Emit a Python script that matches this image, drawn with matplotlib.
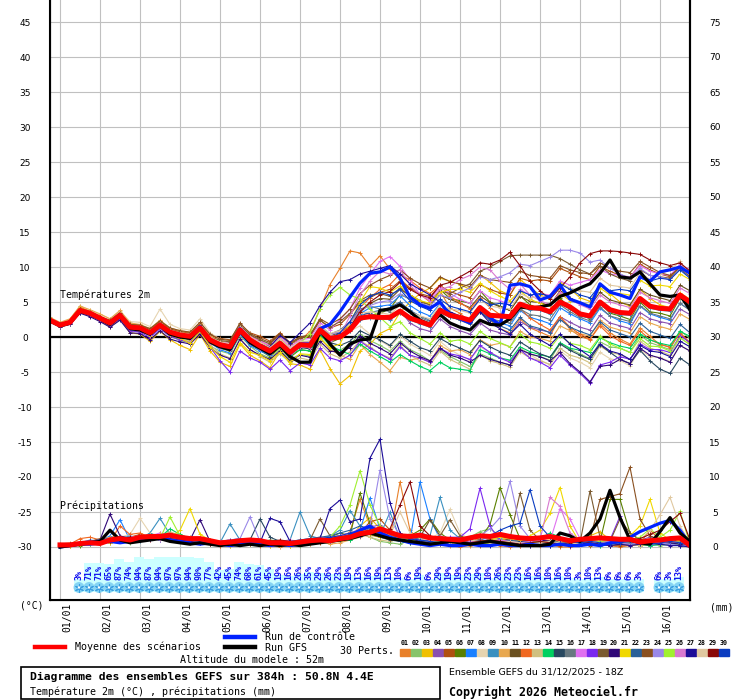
import numpy as np
import matplotlib.pyplot as plt
from matplotlib.patches import Rectangle
from matplotlib.lines import Line2D
import matplotlib.transforms as mtransforms

plt.rcParams['font.family'] = ['DejaVu Sans Mono']

# forecast steps (hours after 31/12 18Z)
hours = list(range(0, 385, 6))
rain_hours = hours[1:]

day_labels = ['01/01', '02/01', '03/01', '04/01', '05/01', '06/01', '07/01', '08/01',
              '09/01', '10/01', '11/01', '12/01', '13/01', '14/01', '15/01', '16/01']

member_colors = ['#e8802a', '#86c46a', '#f0c000', '#8a50b0', '#b05010', '#5a8000',
                 '#1a80ff', '#e6d4b0', '#3a90c0', '#e8a850', '#6a5020', '#f06820',
                 '#d0c080', '#00d060', '#284860', '#687880', '#e070f0', '#7a28f0',
                 '#7a5a30', '#300878', '#f0d800', '#2a6098', '#8a5020', '#9a88e8',
                 '#a0f030', '#d878d0', '#1c0c98', '#e0c8a0', '#8a0808', '#0a3cc0']

# 2m temperature (degC)
temp_mean = [2.4, 1.7,2.1,3.8,3.4, 2.7,2.0,3.1,1.4, 1.3,0.6,1.7,0.7, 0.3,0.1,1.3,-0.4, -1.1,-1.4,1.0,-0.4, -1.3,-2.0,-0.9,-2.2, -1.1,-1.2,1.0,-0.2, 0.0,1.0,2.7,2.9, 2.8,2.8,3.7,2.7, 2.2,1.7,3.8,3.1, 2.8,2.4,4.2,3.1, 3.0,2.9,4.7,4.2, 4.1,3.6,5.0,4.3, 3.3,3.0,5.0,3.9, 3.5,3.4,5.5,4.4, 4.1,4.0,6.0,5.0]
temp_ctrl = [2.4, 1.8,2.0,3.9,3.3, 2.6,2.0,3.2,1.2, 1.1,0.4,1.8,0.5, 0.2,0.0,1.5,-0.5, -1.0,-1.4,1.2,-0.6, -1.4,-2.2,-1.0,-2.4, -1.0,-1.0,1.2,1.8, 3.6,5.7,7.7,9.1, 9.3,10.0,8.4,5.7, 4.6,4.1,5.0,3.1, 2.6,2.0,4.3,2.8, 1.7,7.4,7.6,7.2, 5.3,5.8,7.4,5.4, 4.9,4.3,7.6,6.4, 6.0,5.5,8.6,8.0, 9.3,9.6,10.0,9.1]
temp_gfs = [2.3, 1.6,2.0,3.7,3.3, 2.6,1.8,3.0,1.2, 1.0,0.4,1.6,0.4, 0.0,-0.2,1.2,-0.7, -1.4,-1.8,0.8,-0.8, -1.6,-2.4,-1.2,-2.8, -3.6,-3.6,1.0,-1.0, -2.6,-1.0,-0.4,-0.3, 3.8,4.0,4.6,3.6, 2.4,1.8,3.2,2.0, 1.4,1.0,2.4,1.8, 1.7,2.6,4.3,4.1, 4.3,4.6,5.8,6.3, 7.0,7.6,9.1,11.0, 8.6,8.4,9.3,7.6, 6.0,5.8,6.0,3.9]

temp_p01 = [2.6, 1.9,2.5,4.3,3.7, 2.9,2.2,3.4,1.9, 1.7,1.0,2.3,1.1, 0.8,0.5,2.0,0.3, -0.6,-0.9,1.6,0.3, -0.6,-1.3,0.2,-1.0, -0.5,0.8,4.0,7.5, 9.8,12.3,12.0,10.1, 11.6,9.7,8.3,7.0, 6.1,5.0,6.6,4.1, 3.4,2.1,3.9,2.4, 1.2,0.6,2.6,1.3, 0.7,0.1,2.9,1.1, 0.1,-0.4,1.9,0.6, -0.3,-1.0,1.3,0.1, -1.1,-1.4,0.5,-0.9]
temp_p02 = [2.2, 1.5,1.9,3.5,3.0, 2.4,1.6,2.7,0.9, 0.8,0.2,1.2,0.1, -0.5,-0.8,0.6,-1.3, -2.0,-2.4,0.2,-1.3, -2.4,-3.0,-1.8,-3.2, -2.5,-2.7,-0.2,-1.6, -1.9,-1.0,0.4,-0.5, -1.2,-2.0,-0.6,-1.8, -2.5,-3.4,-1.9,-2.8, -3.5,-4.2,-2.4,-3.0, -3.6,-4.0,-1.6,-2.5, -2.8,-3.3,-0.9,-1.7, -2.4,-3.1,-0.7,-1.4, -1.6,-2.2,0.3,-0.8, -1.3,-1.8,0.9,-0.2]
temp_p03 = [2.5, 1.8,2.0,3.6,3.2, 2.5,1.4,2.6,0.6, 0.4,-0.6,0.8,-0.4, -1.2,-1.8,0.4,-2.0, -3.6,-4.2,-1.0,-2.6, -3.4,-4.4,-2.0,-3.8, -4.0,-4.6,-1.8,-4.5, -6.7,-5.5,-2.0,-1.0, 0.5,1.2,3.5,5.0, 6.2,7.0,8.4,8.0, 7.5,6.8,8.9,7.8, 6.6,6.0,8.2,7.1, 6.0,5.4,7.8,6.9, 5.6,5.1,7.4,6.2, 5.0,4.4,6.8,5.5, 4.6,4.2,6.3,5.4]
temp_p04 = [2.3, 1.6,2.2,3.9,3.3, 2.6,2.1,3.3,1.6, 1.5,0.9,2.0,0.9, 0.5,0.4,1.7,-0.1, -0.8,-1.1,1.4,0.0, -0.9,-1.6,-0.4,-1.8, -0.8,-0.6,1.6,0.4, 0.8,2.0,3.6,3.3, 3.0,2.6,3.8,2.0, 1.2,0.8,2.6,1.5, 0.9,0.4,2.0,1.0, 0.6,0.3,2.2,1.4, 1.0,0.7,2.9,2.1, 1.4,1.0,3.1,2.0, 1.6,1.2,3.5,2.6, 2.2,1.9,4.0,3.2]
temp_p05 = [2.4, 1.7,2.0,3.7,3.4, 2.8,2.3,3.4,1.7, 1.6,1.1,2.1,1.2, 0.8,0.6,1.9,0.3, -0.2,-0.4,1.8,0.6, 0.1,-0.6,0.6,-0.9, -0.1,0.0,2.4,1.3, 1.8,3.2,5.0,5.6, 6.4,6.8,8.0,7.0, 6.2,5.8,7.3,6.5, 6.0,5.6,7.5,6.8, 6.3,6.0,8.4,8.0, 8.2,8.0,9.8,9.2, 8.6,8.2,10.1,9.4, 8.8,8.5,10.4,9.6, 9.0,8.6,10.2,9.0]
temp_p06 = [2.6, 2.0,2.4,4.1,3.6, 2.8,2.2,3.0,1.3, 1.1,0.4,1.6,0.4, 0.0,-0.4,0.9,-0.9, -1.6,-2.0,0.6,-1.0, -1.9,-2.8,-1.5,-2.9, -1.8,-2.0,0.5,-0.8, -0.2,0.8,2.6,3.0, 3.4,4.0,6.1,5.4, 4.8,4.3,6.8,5.5, 5.2,4.8,6.6,5.0, 4.4,3.8,5.9,4.6, 4.0,3.4,5.6,4.0, 3.2,2.6,4.8,3.4, 3.0,2.5,5.0,3.6, 3.4,3.0,5.6,4.4]
temp_p07 = [2.3, 1.6,2.0,3.5,3.2, 2.4,1.7,2.9,1.2, 1.0,0.2,1.5,0.4, 0.1,-0.3,1.0,-0.8, -1.8,-2.3,0.4,-1.2, -2.0,-2.6,-1.2,-2.6, -1.4,-1.6,0.8,-0.6, 0.2,1.4,3.3,4.2, 4.4,4.6,5.9,4.5, 3.6,3.0,4.8,3.6, 2.8,2.2,4.0,2.7, 2.0,1.6,3.8,2.8, 2.4,1.9,4.2,3.3, 2.6,2.0,4.1,3.0, 2.3,1.9,4.4,3.3, 2.8,2.4,4.8,3.9]
temp_p08 = [2.7, 2.0,2.5,4.5,3.8, 3.2,2.6,3.7,2.2, 2.1,1.5,4.0,1.8, 1.2,1.0,2.6,0.6, -0.3,-0.6,1.8,0.4, -0.4,-1.0,0.3,-1.2, -0.6,-0.8,1.4,0.1, 0.3,0.8,1.6,0.4, -0.5,-1.4,0.2,-1.0, -1.8,-2.6,-0.6,-1.8, -2.6,-3.3,-1.4,-2.2, -2.9,-3.5,-1.6,-2.6, -3.3,-4.0,-2.0,-3.0, -3.6,-4.4,-2.2,-3.1, -3.4,-4.1,-1.8,-2.8, -2.9,-3.5,-1.2,-2.0]
temp_p09 = [2.1, 1.4,1.8,3.5,3.1, 2.5,1.9,3.0,1.3, 1.2,0.5,1.6,0.6, 0.2,0.0,1.2,-0.5, -1.2,-1.5,0.9,-0.5, -1.4,-2.1,-1.0,-2.3, -1.2,-1.3,0.9,-0.3, -0.1,0.9,2.5,2.7, 2.6,2.5,3.4,2.4, 1.9,1.4,3.5,2.8, 2.5,2.1,4.0,2.9, 2.8,2.6,4.5,3.9, 3.8,3.3,4.8,4.0, 3.0,2.7,4.7,3.6, 3.2,3.1,5.3,4.1, 3.8,3.7,5.7,4.7]
temp_p10 = [2.8, 2.1,2.6,4.4,3.9, 3.3,2.6,3.8,2.0, 1.8,1.2,2.4,1.3, 0.9,0.7,2.0,0.2, -0.6,-1.0,1.5,0.1, -0.8,-1.5,-0.2,-1.6, -1.0,-1.5,0.0,-1.8, -2.6,-3.2,-1.0,-2.5, -3.6,-4.8,-2.9,-3.3, -3.0,-3.6,-1.2,-2.0, -1.8,-2.5,-0.4,-1.2, -0.9,-1.4,0.8,0.0, -0.2,-0.6,1.6,0.9, 0.5,0.1,2.4,1.4, 1.0,0.6,2.9,2.0, 1.5,1.1,3.3,2.5]
temp_p11 = [2.4, 1.7,2.2,3.9,3.5, 2.8,2.2,3.2,1.6, 1.5,1.0,2.0,1.0, 0.6,0.3,1.6,0.0, -0.8,-1.2,1.2,-0.2, -1.0,-1.7,-0.6,-2.0, -0.9,-1.0,1.2,0.2, 0.6,1.6,3.5,4.8, 5.5,5.4,6.8,6.0, 5.2,4.6,6.0,5.4, 4.8,4.2,5.9,4.9, 4.3,3.8,5.8,5.1, 4.9,4.5,6.6,5.6, 4.8,4.4,6.4,5.3, 4.9,4.6,6.8,6.0, 5.6,5.2,7.4,6.6]
temp_p12 = [2.5, 1.8,2.3,4.0,3.5, 2.7,2.0,3.1,1.5, 1.4,0.7,1.8,0.8, 0.4,0.2,1.4,-0.3, -1.0,-1.3,1.1,-0.3, -1.2,-1.9,-0.8,-2.1, -1.0,-1.1,1.1,-0.1, 0.4,1.8,4.2,5.6, 6.8,7.5,9.0,8.1, 7.0,6.2,7.4,5.8, 4.9,4.0,5.6,4.2, 3.2,2.5,4.1,2.7, 1.8,1.0,2.9,1.4, 0.4,-0.3,1.6,0.2, -0.6,-1.2,0.9,-0.4, -1.0,-1.5,0.6,-0.8]
temp_p13 = [2.2, 1.5,1.9,3.6,3.1, 2.5,1.7,2.8,1.1, 0.9,0.1,1.3,0.2, -0.3,-0.6,0.7,-1.1, -2.4,-3.0,-0.2,-1.8, -2.8,-3.6,-2.4,-3.6, -3.0,-3.3,-1.0,-2.4, -3.0,-2.1,-0.5,-1.4, -2.4,-3.0,-1.2,-2.6, -3.4,-4.0,-2.0,-3.2, -3.9,-4.6,-2.5,-3.4, -3.8,-4.3,-2.1,-3.0, -3.4,-3.9,-1.6,-2.6, -3.0,-3.7,-1.3,-2.2, -2.5,-3.2,-0.6,-1.6, -2.0,-2.6,-0.1,-1.1]
temp_p14 = [2.3, 1.6,2.1,3.7,3.3, 2.6,1.9,2.9,1.3, 1.1,0.4,1.5,0.5, 0.1,-0.2,1.1,-0.6, -1.4,-1.8,0.7,-0.8, -1.6,-2.4,-1.3,-2.6, -1.8,-2.0,0.3,-1.2, -1.9,-2.5,-1.0,-2.0, -2.8,-3.6,-2.5,-3.4, -4.2,-4.8,-3.6,-4.4, -4.6,-4.8,-1.8,-2.4, -3.0,-3.3,-1.4,-2.1, -2.5,-2.9,-0.8,-1.6, -1.9,-2.2,-0.1,-0.8, -1.3,-1.6,0.4,-0.4, -0.9,-1.2,0.8,0.1]
temp_p15 = [2.4, 1.7,2.1,3.8,3.4, 2.7,2.0,3.1,1.4, 1.2,0.6,1.7,0.6, 0.2,0.0,1.2,-0.5, -1.2,-1.5,0.9,-0.5, -1.5,-2.2,-1.1,-2.4, -1.5,-1.7,0.5,-0.8, -1.2,-0.6,0.9,0.2, -0.4,-1.2,0.4,-0.6, -1.5,-2.0,-0.2,-1.0, -1.6,-2.2,-0.5,-1.4, -2.1,-2.6,-0.7,-1.6, -2.4,-2.9,-1.0,-1.9, -2.6,-3.2,-1.1,-2.2, -3.2,-3.8,-1.9,-3.4, -4.6,-5.2,-3.0,-4.0]
temp_p16 = [2.5, 1.8,2.2,3.9,3.4, 2.7,2.1,3.2,1.5, 1.3,0.7,1.9,0.8, 0.4,0.2,1.5,-0.2, -0.9,-1.1,1.3,-0.1, -1.0,-1.6,-0.5,-1.8, -0.7,-0.8,1.5,0.4, 1.0,2.2,4.0,4.4, 4.0,3.6,4.8,3.6, 2.8,2.2,3.9,2.9, 2.4,1.8,3.6,2.6, 2.3,2.0,4.0,3.2, 3.0,2.5,4.6,3.6, 2.8,2.3,4.3,3.0, 2.6,2.2,4.5,3.4, 3.0,2.6,4.8,3.8]
temp_p17 = [2.6, 1.9,2.3,4.0,3.6, 2.9,2.2,3.3,1.6, 1.4,0.8,1.9,0.8, 0.4,0.3,1.6,-0.1, -0.7,-0.9,1.6,0.1, -0.6,-1.2,0.1,-1.4, -0.4,-0.2,2.0,1.0, 2.5,4.0,7.0,9.0, 10.8,11.5,10.1,8.2, 6.0,5.4,7.2,6.2, 5.4,4.8,6.6,5.6, 5.2,4.6,6.8,6.0, 6.2,6.0,8.0,7.4, 7.8,8.2,9.6,9.0, 8.8,8.6,10.2,9.4, 9.0,8.8,10.4,9.6]
temp_p18 = [2.3, 1.6,2.0,3.6,3.1, 2.4,1.6,2.6,0.9, 0.7,-0.1,1.2,0.1, -0.4,-0.8,0.6,-1.4, -3.4,-5.0,-2.0,-3.0, -3.6,-4.6,-3.3,-4.8, -3.7,-4.0,-1.6,-3.0, -3.4,-2.6,-0.6,-1.6, -2.4,-3.2,-1.4,-2.6, -3.0,-3.6,-1.6,-2.4, -2.7,-3.2,-1.2,-2.2, -3.0,-3.6,-1.8,-3.0, -3.6,-4.4,-2.6,-4.0, -5.2,-6.6,-4.0,-3.6, -2.8,-3.2,-1.0,-1.8, -1.8,-2.2,0.2,-0.8]
temp_p19 = [2.4, 1.7,2.1,3.9,3.4, 2.8,2.2,3.3,1.6, 1.5,0.9,2.0,1.1, 0.6,0.4,1.7,0.0, -0.5,-0.7,1.7,0.3, -0.4,-1.0,0.4,-1.0, -0.2,0.2,2.4,1.4, 2.2,3.4,5.2,6.0, 6.2,5.8,7.0,5.8, 5.0,4.6,6.6,6.2, 7.0,7.6,9.4,10.0, 10.8,11.6,11.7,11.7, 11.7,11.7,11.2,10.4, 9.6,9.0,10.2,9.0, 8.4,8.0,9.6,8.8, 8.6,8.4,10.0,9.2]
temp_p20 = [2.2, 1.5,1.8,3.4,2.9, 2.2,1.4,2.4,0.6, 0.5,-0.4,0.9,-0.3, -0.7,-1.0,0.4,-1.5, -2.6,-3.1,-0.3,-1.8, -2.6,-3.2,-2.0,-3.4, -2.6,-2.9,-0.6,-2.0, -2.2,-1.5,0.2,-0.9, -1.6,-2.4,-0.8,-2.0, -2.8,-3.4,-1.6,-2.6, -3.0,-3.6,-2.6,-3.2, -3.6,-4.0,-1.8,-2.4, -2.8,-3.4,-2.2,-3.8, -5.0,-6.4,-4.2,-4.0, -3.2,-3.8,-1.6,-2.6, -3.0,-3.6,-1.2,-2.0]
temp_p21 = [2.6, 1.9,2.3,4.1,3.6, 2.9,2.2,3.2,1.4, 1.1,0.2,1.4,0.3, -0.2,-0.9,0.8,-1.4, -2.8,-3.6,-0.8,-2.2, -2.6,-3.4,-2.2,-3.6, -2.4,-2.5,-0.2,-1.5, -1.0,2.0,5.0,7.2, 7.0,6.4,7.3,6.0, 5.2,4.8,6.4,6.8, 6.8,6.4,7.7,6.6, 5.8,5.2,6.6,5.4, 4.8,4.4,6.2,5.2, 4.9,4.6,7.0,6.0, 6.2,6.0,8.1,7.3, 7.4,7.2,9.0,8.2]
temp_p22 = [2.3, 1.6,2.1,3.8,3.3, 2.6,2.0,3.1,1.4, 1.3,0.6,1.8,0.7, 0.2,0.0,1.3,-0.5, -1.1,-1.4,1.0,-0.4, -1.3,-2.0,-0.8,-2.2, -1.1,-1.2,1.0,-0.2, 0.0,1.2,3.0,3.5, 3.8,4.2,5.0,3.8, 3.0,2.4,4.2,3.0, 2.6,2.0,3.6,2.4, 1.6,1.0,2.8,1.6, 1.2,0.6,2.5,1.4, 0.8,0.3,2.2,1.0, 0.5,0.0,2.0,0.8, 0.3,-0.2,1.8,0.6]
temp_p23 = [2.5, 1.8,2.3,4.0,3.6, 2.9,2.4,3.5,1.8, 1.7,1.2,2.3,1.3, 0.9,0.7,2.1,0.4, -0.3,-0.5,2.0,0.5, -0.2,-0.8,0.5,-0.8, 0.0,0.3,2.6,1.8, 2.6,4.0,6.2,7.4, 8.2,8.8,9.6,8.4, 7.6,7.0,8.6,7.9, 7.6,7.2,8.8,8.2, 8.0,7.8,9.4,8.8, 8.6,8.4,10.2,9.6, 9.2,9.0,10.6,9.8, 9.4,9.2,10.8,10.0, 9.2,8.8,9.8,8.6]
temp_p24 = [2.4, 1.7,2.1,3.8,3.4, 2.7,2.1,3.1,1.5, 1.4,0.8,1.9,0.9, 0.5,0.3,1.5,-0.2, -0.9,-1.2,1.2,-0.2, -1.1,-1.8,-0.6,-2.0, -0.8,-0.8,1.5,0.3, 0.8,2.0,3.8,4.5, 5.0,5.2,6.2,5.4, 4.8,4.4,6.0,5.6, 6.4,7.0,8.6,8.2, 8.6,9.2,10.4,10.2, 10.8,11.4,12.4,12.4, 12.0,10.7,11.0,9.8, 9.0,8.4,9.8,8.8, 8.6,8.2,9.8,9.0]
temp_p25 = [2.5, 1.8,2.2,3.9,3.5, 2.8,2.1,3.2,1.5, 1.3,0.7,1.8,0.8, 0.4,0.2,1.4,-0.3, -1.0,-1.3,1.1,-0.3, -1.2,-1.8,-0.7,-2.0, -0.9,0.5,4.0,6.0, 7.1,6.0,5.4,4.0, 2.8,1.5,2.2,0.6, -0.2,-1.0,0.6,-0.6, -0.4,-1.0,0.8,-0.2, -0.8,-1.4,0.4,-0.7, -1.0,-1.6,0.2,-0.9, -1.2,-1.8,0.1,-1.0, -1.6,-2.2,-0.2,-1.3, -1.4,-2.0,-0.1,-1.1]
temp_p26 = [2.3, 1.6,2.0,3.7,3.3, 2.6,1.9,3.0,1.2, 1.0,0.3,1.4,0.4, 0.0,-0.3,1.0,-0.8, -1.5,-1.9,0.6,-0.9, -1.7,-2.4,-1.3,-2.7, -1.4,-1.5,0.7,-0.6, 0.2,3.0,6.0,8.0, 9.4,9.0,9.6,7.4, 6.0,5.2,6.8,7.2, 8.2,8.8,10.0,9.6, 8.0,6.8,7.6,6.0, 5.2,4.6,6.4,5.4, 4.6,4.0,6.0,5.0, 4.6,4.2,6.4,5.6, 5.2,4.8,7.0,6.2]
temp_p27 = [2.4, 1.7,2.1,3.8,3.4, 2.7,2.0,3.0,1.3, 1.2,0.5,1.6,0.6, 0.2,0.0,1.2,-0.4, -1.1,-1.3,1.2,-0.2, -1.0,-1.4,0.2,-0.8, 0.6,2.0,4.5,6.4, 7.9,8.2,9.0,9.4, 9.8,10.2,9.0,7.6, 6.8,6.0,5.0,3.6, 3.0,2.2,3.6,2.0, 1.2,0.4,1.8,0.4, -0.4,-1.2,0.4,-1.0, -1.8,-2.8,-1.0,-2.0, -2.4,-3.2,-1.2,-2.0, -2.2,-2.8,-0.6,-1.4]
temp_p28 = [2.5, 1.8,2.2,3.9,3.5, 2.8,2.2,3.3,1.6, 1.5,0.9,2.0,1.0, 0.6,0.4,1.6,0.0, -0.7,-1.0,1.4,0.0, -0.8,-1.5,-0.3,-1.6, -0.6,-0.6,1.6,0.5, 0.9,1.8,3.4,3.6, 3.5,3.2,4.6,3.6, 3.0,2.6,4.6,4.0, 3.8,3.4,5.4,4.4, 4.2,4.0,6.2,5.6, 5.8,5.6,7.6,7.0, 6.6,6.4,8.4,7.4, 7.2,7.0,9.2,8.2, 9.0,9.6,10.8,9.0]
temp_p29 = [2.5, 1.8,2.3,4.0,3.5, 2.8,2.1,3.2,1.5, 1.3,0.7,1.8,0.7, 0.3,0.1,1.3,-0.4, -1.1,-1.4,1.0,-0.4, -1.3,-2.0,-0.9,-2.2, -1.2,-1.3,0.9,-0.3, 0.2,1.4,3.6,5.0, 6.0,6.5,7.8,6.8, 6.0,5.6,7.4,7.8, 8.6,9.4,10.6,10.4, 11.0,12.1,10.2,8.0, 6.6,5.4,7.0,8.6, 10.6,11.9,12.3,12.3, 12.2,12.0,11.8,11.0, 10.6,10.2,10.6,9.4]
temp_p30 = [2.4, 1.7,2.1,3.8,3.4, 2.7,2.0,3.1,1.4, 1.3,0.6,1.7,0.7, 0.3,0.1,1.3,-0.4, -1.1,-1.4,1.0,-0.4, -1.3,-2.0,-0.9,-2.2, -1.1,-1.2,1.0,-0.2, 0.6,2.2,4.6,5.8, 6.4,6.0,6.8,5.2, 4.4,3.8,5.4,4.4, 4.0,3.6,5.4,4.6, 4.8,4.6,6.6,6.0, 6.2,5.8,7.6,6.8, 6.0,5.6,7.4,6.6, 6.8,6.6,8.6,8.0, 8.4,8.2,9.6,8.4]

# precipitation (mm per 6h), from +6h
rain_mean = [0.3,0.3,0.5,0.6, 0.5,1.0,1.2,1.0, 1.4,1.5,1.5,1.7, 1.4,1.2,1.2,0.9, 0.6,0.7,0.9,1.0, 0.9,0.6,0.6,0.5, 0.7,0.9,1.0,0.9, 1.2,1.4,1.9,2.1, 2.6,2.1,1.6,1.5, 1.7,1.3,1.2,1.1, 1.0,1.3,1.6,1.5, 1.8,1.5,1.3,1.2, 1.3,1.5,1.2,0.9, 1.1,1.2,1.3,1.2, 1.1,1.1,0.7,0.9, 1.0,1.2,1.3,0.2]
rain_ctrl = [0.0,0.2,0.4,0.4, 0.6,0.8,0.6,0.8, 1.0,1.2,1.4,1.0, 0.8,0.6,0.4,0.6, 0.4,0.2,0.4,0.6, 0.4,0.2,0.4,0.2, 0.4,0.6,0.8,1.0, 1.2,1.6,2.4,3.0, 2.0,1.4,1.0,0.6, 0.4,0.2,0.4,0.2, 0.2,0.4,0.2,0.2, 0.4,0.2,0.2,0.4, 0.2,0.2,0.4,0.2, 0.2,0.4,0.2,0.6, 0.8,1.4,2.2,2.8, 3.4,3.8,2.4,0.4]
rain_gfs = [0.0,0.2,0.4,0.6, 0.8,2.4,1.0,0.6, 0.8,1.0,1.2,0.8, 0.6,0.4,0.6,0.4, 0.2,0.4,0.2,0.4, 0.2,0.4,0.2,0.4, 0.2,0.4,0.6,0.8, 1.0,1.2,1.6,2.0, 1.6,1.2,1.0,0.8, 0.6,0.4,0.6,0.8, 0.6,0.4,0.6,0.8, 0.6,0.4,0.2,0.2, 0.2,0.4,2.0,1.6, 0.8,2.0,4.0,8.1, 4.2,1.0,0.6,0.4, 2.2,4.2,2.0,0.8]

rain_p01 = [0.2,0.4,0.6,0.8, 1.0,0.6,1.2,0.8, 1.6,1.2,2.0,1.4, 0.8,0.6,1.0,0.4, 0.2,0.4,0.6,1.0, 0.6,0.2,0.0,0.2, 0.4,0.6,0.8,1.2, 1.0,2.2,6.8,3.0, 2.0,1.2,9.3,2.4, 0.8,0.6,0.4,0.2, 0.0,0.2,0.6,0.4, 0.2,0.0,0.4,0.6, 0.2,0.4,0.0,0.0, 0.2,0.6,0.4,0.2, 0.0,0.2,0.4,0.2, 0.6,0.8,0.4,0.0]
rain_p02 = [0.0,0.2,0.4,0.4, 0.6,1.0,0.8,0.6, 1.0,1.4,1.2,1.8, 1.2,0.8,0.6,0.6, 0.4,0.2,0.4,0.8, 1.0,0.6,0.4,0.2, 0.2,0.4,0.8,0.6, 1.0,1.6,2.4,1.4, 0.8,0.6,0.4,1.0, 1.2,0.6,0.8,0.4, 0.6,1.4,2.2,2.6, 1.6,0.8,0.4,0.6, 1.0,0.6,0.4,0.2, 0.6,0.4,0.2,0.4, 0.6,0.8,1.0,0.4, 0.2,0.4,0.8,0.2]
rain_p03 = [0.2,0.4,0.4,0.6, 0.8,0.6,1.0,1.2, 0.8,1.2,1.6,1.2, 0.8,1.4,0.6,0.4, 0.6,0.2,0.4,0.6, 0.4,0.2,0.6,0.8, 0.6,1.0,1.4,1.0, 0.8,1.2,3.0,4.2, 2.6,1.8,1.2,0.8, 1.4,0.6,0.4,1.0, 1.6,1.0,0.6,0.8, 1.2,0.8,0.6,0.4, 0.8,1.0,0.6,0.4, 0.8,1.6,2.2,1.0, 0.6,0.4,0.8,1.2, 0.8,0.6,1.0,0.2]
rain_p04 = [0.4,0.2,0.6,0.8, 0.6,1.2,1.4,0.8, 1.2,1.6,1.4,1.0, 1.6,1.0,0.8,0.6, 0.4,0.6,0.8,0.6, 0.6,0.4,0.2,0.4, 0.6,0.8,1.2,0.6, 1.4,2.0,1.6,2.8, 3.2,2.0,1.4,1.6, 1.0,0.8,0.6,1.2, 0.8,0.6,1.4,1.0, 0.6,0.4,0.8,0.6, 1.2,0.8,0.6,0.4, 0.6,0.4,0.8,0.6, 0.4,0.6,1.0,1.4, 1.2,0.6,0.4,0.2]
rain_p05 = [0.2,0.2,0.4,0.6, 0.4,0.8,1.0,1.4, 1.8,1.4,1.0,1.6, 1.0,0.8,1.2,1.0, 0.6,0.8,0.6,1.0, 0.8,0.6,0.4,0.6, 0.8,1.0,0.6,0.8, 1.2,1.6,2.0,3.6, 4.0,2.4,1.6,1.2, 0.8,0.4,0.6,0.8, 0.6,0.4,0.2,0.4, 0.6,0.4,0.2,0.2, 0.4,0.2,0.2,0.6, 0.4,0.2,0.4,0.2, 0.2,0.4,0.2,0.4, 0.6,0.4,0.2,0.0]
rain_p06 = [0.2,0.4,0.2,0.6, 0.6,0.8,1.0,1.2, 1.4,1.2,1.8,2.0, 1.2,0.8,1.0,0.6, 0.4,0.6,1.0,0.8, 0.6,1.0,0.8,0.4, 0.6,0.8,1.0,1.4, 2.0,1.6,7.7,3.4, 2.0,1.4,1.0,1.6, 2.4,4.0,2.0,1.0, 0.8,0.6,1.2,3.2, 8.5,4.6,1.2,0.6, 0.8,0.6,0.4,0.4, 0.6,0.4,0.8,6.8, 6.8,2.0,1.0,0.8, 0.8,1.2,0.6,0.2]
rain_p07 = [0.2,0.4,0.6,1.0, 0.8,1.6,3.9,1.0, 0.8,1.2,1.0,1.6, 1.2,0.8,0.6,1.0, 0.8,1.0,1.2,0.8, 0.6,0.4,0.6,0.8, 1.0,1.2,1.4,1.0, 1.2,1.0,2.4,7.0, 2.6,2.0,1.4,1.0, 9.3,4.0,1.2,0.8, 0.8,0.6,1.0,1.4, 1.2,1.6,0.8,0.6, 0.8,0.6,0.4,0.6, 0.8,0.6,0.4,0.2, 0.6,0.4,0.6,0.8, 0.4,0.6,0.4,0.2]
rain_p08 = [0.2,0.2,0.4,0.6, 0.8,1.0,1.4,1.8, 4.1,2.0,1.6,1.2, 1.0,0.8,1.2,0.8, 0.4,0.6,0.8,0.6, 0.4,0.6,0.2,0.4, 0.6,0.4,0.8,0.6, 1.0,1.4,2.0,1.6, 1.4,1.2,1.0,0.8, 1.0,1.2,2.0,5.4, 2.0,1.0,0.6,0.4, 0.6,0.4,0.2,0.4, 0.6,0.8,0.4,0.2, 0.2,0.4,0.6,0.8, 0.4,0.6,0.8,0.4, 0.6,0.4,0.2,0.0]
rain_p09 = [0.2,0.4,0.6,0.8, 1.0,0.8,1.2,1.6, 1.2,2.0,4.1,1.8, 1.4,1.0,1.2,0.8, 0.6,3.3,1.0,0.6, 0.6,0.4,0.8,1.0, 5.0,1.6,1.2,1.6, 2.4,5.2,3.0,2.0, 1.6,5.0,1.2,1.0, 2.0,1.6,7.1,2.4, 1.2,0.8,0.6,0.4, 0.6,0.8,1.0,0.6, 0.4,0.2,0.4,0.6, 0.8,0.6,0.4,0.2, 0.4,0.6,0.4,0.2, 0.4,0.6,0.2,0.0]
rain_p10 = [0.4,0.6,0.4,0.8, 1.0,1.4,1.2,0.8, 1.6,1.2,1.0,1.4, 1.2,1.0,0.8,0.6, 0.4,0.6,0.8,1.0, 0.8,0.6,0.4,0.2, 0.4,0.6,0.8,0.4, 0.6,1.0,1.4,2.0, 3.0,2.0,1.6,1.2, 1.0,0.8,0.6,0.4, 0.6,0.8,1.2,1.6, 1.4,1.0,0.6,0.4, 0.6,0.8,1.0,0.8, 0.6,0.4,0.6,0.8, 0.6,0.4,0.2,0.4, 0.8,1.0,0.6,0.2]
rain_p11 = [0.2,0.4,0.6,0.6, 0.8,1.2,1.0,1.4, 1.6,1.2,1.4,1.8, 1.4,1.0,0.8,0.6, 0.4,0.6,0.4,0.8, 0.6,0.8,0.6,0.4, 0.8,1.0,1.2,0.8, 1.2,1.6,2.2,2.8, 2.2,1.6,1.2,1.0, 1.4,3.9,1.6,1.0, 0.8,0.6,0.8,1.0, 0.8,0.6,0.4,0.6, 0.4,0.6,0.8,0.6, 0.4,0.6,0.4,0.2, 0.4,0.6,0.8,0.6, 0.4,0.6,0.4,0.2]
rain_p12 = [0.2,0.4,1.2,1.4, 1.0,0.8,3.0,1.8, 2.0,1.4,1.2,1.0, 0.8,1.0,0.6,0.4, 0.2,0.4,0.6,0.4, 0.2,0.4,0.6,0.8, 0.6,0.4,0.8,1.0, 1.2,1.8,2.6,2.0, 1.6,1.2,1.0,0.8, 0.6,1.0,1.4,1.0, 0.8,0.6,0.4,0.6, 0.8,0.4,0.2,0.4, 0.6,0.8,0.4,0.2, 0.4,0.6,0.4,0.2, 0.4,0.2,0.6,2.4, 1.0,0.6,0.4,0.2]
rain_p13 = [0.2,0.2,0.4,0.6, 1.0,0.8,1.2,1.0, 1.4,1.8,1.6,2.2, 1.6,1.4,1.2,1.0, 0.8,1.0,0.6,0.4, 0.6,0.4,0.2,0.6, 0.8,0.6,1.0,1.4, 1.6,2.0,1.8,1.4, 1.0,0.8,1.2,1.6, 1.2,0.8,0.6,0.4, 0.6,1.0,1.4,1.2, 1.0,0.8,0.6,0.4, 0.6,0.4,0.8,1.2, 1.0,0.8,0.6,0.4, 0.6,0.4,0.2,0.6, 0.8,0.6,0.4,0.2]
rain_p14 = [0.2,0.4,0.6,0.4, 0.6,0.8,1.4,1.2, 1.0,1.6,1.4,2.6, 1.8,1.2,1.0,0.8, 0.6,0.4,0.6,0.8, 0.6,0.4,0.4,0.6, 0.4,0.6,0.8,1.0, 1.2,1.0,1.6,2.0, 1.6,1.2,0.8,0.6, 0.8,1.0,1.2,0.8, 0.6,0.4,0.6,0.8, 1.0,0.8,0.6,0.4, 1.2,2.0,1.4,0.8, 0.6,0.4,0.2,0.4, 0.6,0.8,0.4,0.2, 0.4,0.6,0.4,0.2]
rain_p15 = [0.2,0.4,0.4,0.6, 0.8,1.0,0.8,1.2, 1.4,1.2,1.6,1.2, 1.0,0.8,0.6,0.8, 0.6,0.4,0.8,1.0, 4.0,1.4,0.8,0.6, 0.6,0.8,1.0,1.2, 1.6,2.0,2.4,1.8, 1.4,1.0,0.8,0.6, 0.8,1.0,1.2,0.8, 0.6,0.4,0.6,0.8, 0.6,0.4,0.8,1.0, 0.8,0.6,0.4,0.6, 0.8,0.6,0.4,0.6, 0.8,1.0,0.6,0.4, 0.6,0.8,1.2,0.2]
rain_p16 = [0.2,0.4,0.6,0.4, 0.6,0.8,1.0,1.4, 1.2,1.6,1.4,1.2, 1.0,1.2,0.8,0.6, 0.4,0.6,0.8,0.6, 0.8,0.6,0.4,0.4, 0.6,0.8,1.0,0.8, 1.0,1.4,1.8,2.2, 2.0,1.6,1.2,1.0, 0.8,0.6,1.0,1.2, 1.0,0.8,0.6,0.4, 0.6,0.8,1.0,0.8, 0.6,0.4,0.6,0.8, 1.0,0.8,0.6,0.4, 0.6,0.8,0.6,0.4, 0.6,0.8,0.6,0.2]
rain_p17 = [0.2,0.4,0.6,0.8, 1.0,0.8,1.2,1.4, 1.2,1.6,2.0,1.6, 1.2,1.0,0.8,0.6, 0.8,1.0,0.8,0.6, 0.4,0.6,0.8,1.0, 0.8,0.6,1.0,1.4, 1.6,2.0,2.6,3.2, 2.4,1.8,1.4,1.0, 0.8,1.2,1.6,1.2, 1.0,0.8,0.6,0.4, 0.6,0.8,0.6,0.4, 0.6,0.8,5.5,4.0, 1.2,0.8,0.6,0.4, 0.6,0.8,0.6,0.4, 0.8,1.0,0.6,0.2]
rain_p18 = [0.2,0.4,0.6,0.8, 0.6,0.8,1.0,0.8, 1.2,1.4,1.0,1.2, 1.0,0.8,0.6,0.8, 0.6,0.4,0.6,0.8, 1.0,0.8,0.6,0.4, 0.6,0.8,1.0,0.8, 1.2,1.4,1.6,2.0, 1.6,1.2,1.0,0.8, 0.6,0.8,1.0,1.4, 1.4,2.6,8.4,3.0, 0.8,0.6,0.4,0.6, 0.8,0.6,0.4,0.2, 0.4,0.6,0.8,1.0, 4.4,1.0,0.6,0.4, 0.6,0.8,0.6,0.2]
rain_p19 = [0.2,0.4,0.4,0.6, 0.8,1.0,0.8,1.2, 1.0,1.4,1.6,1.2, 1.0,0.8,0.6,0.8, 0.6,0.4,0.8,0.6, 0.4,0.6,0.8,0.6, 0.8,1.0,4.0,1.6, 1.2,1.6,2.0,2.4, 1.8,1.4,1.2,1.0, 0.8,1.2,1.6,3.9, 1.6,1.0,0.8,0.6, 0.8,1.2,7.7,2.4, 1.0,0.8,0.6,0.4, 0.6,8.0,1.4,0.8, 4.0,2.0,1.0,0.8, 0.6,0.8,0.6,0.2]
rain_p20 = [0.2,0.4,0.6,0.8, 1.0,4.7,1.6,1.2, 1.0,1.4,1.2,1.6, 1.2,1.0,3.9,0.8, 0.6,0.8,1.0,0.6, 0.8,0.6,0.4,0.6, 0.8,1.0,1.2,1.0, 1.4,1.6,2.0,2.4, 2.0,1.6,1.2,1.0, 0.8,1.0,1.2,0.8, 0.6,0.8,1.0,0.8, 0.6,0.4,0.6,0.8, 1.0,0.8,0.6,0.4, 0.6,0.8,0.6,0.4, 0.6,0.8,1.0,0.6, 0.4,0.6,0.4,0.2]
rain_p21 = [0.2,0.2,0.4,0.6, 0.8,1.0,1.2,1.0, 1.4,1.6,1.8,1.2, 2.4,5.5,1.8,1.0, 0.8,0.6,0.4,0.6, 0.8,0.6,0.4,0.2, 0.4,0.6,0.8,1.0, 1.4,1.8,2.2,1.8, 1.4,1.2,1.0,0.8, 1.0,1.2,1.4,1.2, 0.8,0.6,0.8,1.0, 1.4,1.2,1.0,1.6, 2.4,4.8,8.5,3.0, 0.6,0.4,0.8,1.0, 1.0,1.6,3.0,6.8, 2.0,1.0,0.6,0.2]
rain_p22 = [0.2,0.4,0.6,0.8, 1.0,1.2,1.0,0.8, 1.2,1.4,1.6,1.2, 1.0,0.8,0.6,0.4, 0.6,0.8,1.0,0.8, 0.6,0.4,0.6,0.8, 1.0,1.2,1.4,1.6, 2.0,2.4,3.0,2.6, 2.0,1.6,1.2,1.0, 1.2,1.4,1.0,0.8, 1.2,1.0,0.8,0.6, 0.8,1.0,0.6,0.4, 0.6,0.8,0.6,0.4, 0.6,0.4,0.6,0.8, 0.6,0.4,0.6,0.8, 0.6,0.4,0.2,0.2]
rain_p23 = [0.2,0.4,0.6,0.8, 1.2,1.0,1.4,1.2, 1.0,1.6,1.2,1.4, 1.2,1.0,0.8,0.6, 0.6,0.4,0.8,1.0, 0.8,0.6,0.4,0.6, 0.8,1.0,1.2,1.0, 1.4,1.8,2.2,2.0, 1.6,1.2,1.0,0.8, 1.0,1.2,1.4,1.0, 0.8,0.6,0.8,1.0, 0.8,0.6,0.4,0.6, 0.8,0.6,0.4,0.6, 0.8,1.0,6.8,7.2, 7.6,11.4,4.0,1.6, 1.0,0.8,0.6,0.2]
rain_p24 = [0.2,0.4,0.6,0.8, 1.0,0.8,1.0,1.2, 1.4,1.2,1.0,1.4, 1.2,1.0,0.8,0.6, 0.8,1.0,1.2,4.3, 0.8,0.6,0.4,0.6, 0.8,1.0,1.2,1.4, 1.6,2.0,2.4,3.0, 11.0,4.0,1.6,1.2, 1.0,0.8,0.6,0.8, 1.0,1.2,1.6,2.6, 4.2,9.4,3.0,1.2, 0.8,0.6,0.4,0.6, 0.8,0.6,0.4,0.6, 0.6,0.4,0.6,0.8, 0.6,0.4,0.2,0.2]
rain_p25 = [0.2,0.4,0.6,0.4, 0.6,0.8,1.0,1.2, 1.4,1.6,1.2,4.3, 1.6,1.2,1.0,0.8, 0.6,0.8,0.6,0.4, 0.6,0.8,0.6,0.4, 0.6,0.8,1.0,1.4, 3.0,6.0,10.9,6.0, 3.0,1.6,1.2,1.0, 0.8,0.6,0.8,1.0, 0.8,0.6,0.4,0.6, 0.8,0.6,0.4,0.6, 0.8,0.6,0.4,0.6, 0.8,1.0,0.8,0.6, 0.8,1.0,1.4,2.6, 1.4,2.4,5.1,0.4]
rain_p26 = [0.2,0.4,0.6,0.8, 0.8,1.0,1.2,1.4, 1.6,1.4,1.2,1.0, 0.8,1.0,0.8,0.6, 0.4,0.6,0.8,1.0, 0.8,0.6,0.4,0.6, 0.8,1.0,1.2,1.4, 1.6,2.0,2.4,2.8, 2.4,2.0,1.6,1.2, 1.0,1.2,1.4,1.2, 1.0,0.8,0.6,0.8, 1.0,0.8,0.6,0.8, 1.0,7.1,5.8,2.0, 1.0,0.8,0.6,0.8, 1.0,0.8,0.6,0.4, 0.6,0.8,0.6,0.2]
rain_p27 = [0.2,0.4,0.6,0.8, 1.0,0.8,1.2,1.0, 1.2,1.4,1.6,1.2, 1.0,0.8,1.0,0.8, 0.6,0.8,1.0,0.8, 0.6,4.1,3.6,0.8, 0.8,1.0,1.2,5.5, 6.7,3.6,4.0,12.7, 15.4,6.3,2.0,1.2, 0.8,0.6,0.4,0.6, 0.8,0.6,0.4,0.2, 0.4,0.6,0.4,0.2, 0.4,0.2,0.4,0.2, 0.4,0.6,0.4,0.2, 0.4,0.2,0.4,0.6, 0.4,0.2,0.2,0.0]
rain_p28 = [0.2,0.4,0.6,0.8, 1.0,1.2,1.0,0.8, 1.0,1.2,1.4,1.2, 1.0,0.8,0.6,0.8, 0.6,0.4,0.6,0.8, 0.6,0.8,0.6,0.4, 0.6,0.8,1.0,1.2, 1.4,1.6,2.0,2.4, 2.0,1.6,5.0,2.0, 1.2,1.0,0.8,0.6, 0.8,1.0,0.8,0.6, 0.6,0.8,0.6,0.4, 0.6,0.8,0.6,0.4, 0.6,0.8,0.6,0.4, 0.6,0.8,1.0,2.4, 4.6,7.1,3.0,0.6]
rain_p29 = [0.2,0.4,0.6,0.8, 1.0,0.8,1.2,1.4, 1.2,1.0,1.4,1.2, 1.0,0.8,0.6,0.4, 0.6,0.8,0.6,0.4, 0.6,0.8,1.0,0.8, 0.6,0.8,1.0,1.2, 1.4,1.6,2.0,2.4, 2.0,2.6,6.0,9.3, 3.0,1.6,1.2,1.0, 0.8,0.6,0.8,1.0, 0.8,0.6,0.4,0.6, 0.8,0.6,0.4,0.6, 0.8,0.6,0.4,0.6, 0.8,1.0,1.2,1.8, 2.4,3.6,4.8,1.0]
rain_p30 = [0.2,0.4,0.6,0.8, 1.0,1.2,1.0,0.8, 1.0,1.2,1.4,1.6, 1.2,1.0,0.8,0.6, 0.4,0.6,0.8,1.0, 0.8,0.6,0.4,0.6, 0.8,1.0,1.2,1.4, 1.6,2.0,2.4,2.8, 2.4,2.0,1.6,1.2, 1.0,0.8,0.6,0.8, 1.0,1.2,1.4,1.6, 2.4,3.0,3.4,8.2, 3.0,1.4,1.0,0.8, 0.6,0.8,0.6,0.4, 0.6,0.8,0.6,0.4, 0.6,0.8,0.6,0.2]

# snow probability (%) per 6h slot, 0 = no label
snow_pct = [3, 71, 71, 65, 87, 74, 94, 87, 94, 97, 97, 94, 90, 77, 42, 45, 74, 68, 61, 45,
            19, 16, 26, 35, 29, 26, 23, 19, 13, 16, 19, 13, 10, 6, 19, 6, 29, 19, 19, 23,
            29, 10, 26, 23, 23, 16, 16, 10, 16, 10, 3, 10, 13, 6, 6, 6, 3, 0, 6, 3, 13]

pert_temps = [temp_p01, temp_p02, temp_p03, temp_p04, temp_p05, temp_p06, temp_p07, temp_p08,
              temp_p09, temp_p10, temp_p11, temp_p12, temp_p13, temp_p14, temp_p15, temp_p16,
              temp_p17, temp_p18, temp_p19, temp_p20, temp_p21, temp_p22, temp_p23, temp_p24,
              temp_p25, temp_p26, temp_p27, temp_p28, temp_p29, temp_p30]
pert_rains = [rain_p01, rain_p02, rain_p03, rain_p04, rain_p05, rain_p06, rain_p07, rain_p08,
              rain_p09, rain_p10, rain_p11, rain_p12, rain_p13, rain_p14, rain_p15, rain_p16,
              rain_p17, rain_p18, rain_p19, rain_p20, rain_p21, rain_p22, rain_p23, rain_p24,
              rain_p25, rain_p26, rain_p27, rain_p28, rain_p29, rain_p30]

W, H = 740, 700
YTOP, YBOT = 337 / 7, (337 - 600) / 7
RAIN_BASE = -30


def py(y):
    # picture row -> temperature units
    return YTOP - y * (YTOP - YBOT) / 600


def fx(x, y):
    return x / W, 1 - y / H


fig = plt.figure(figsize=(W / 100, H / 100), dpi=100)
ax = fig.add_axes([50 / W, 100 / H, 640 / W, 600 / H])
ax.set_xlim(0, 384)
ax.set_ylim(YBOT, YTOP)

# grid
for v in range(-30, 46, 5):
    ax.axhline(v, color='#c0c0c0', lw=0.8, zorder=0.5)
day_ticks = [6 + 24 * d for d in range(len(day_labels))]
for t in day_ticks:
    ax.axvline(t, color='#c0c0c0', lw=0.8, zorder=0.5)
ax.axhline(0, color='black', lw=1.6, zorder=1.5)

# snow probability strip
snow_t = np.array([17.4 + 6 * i for i in range(len(snow_pct))])
pct = np.array(snow_pct)
has = pct > 0
ax.bar(snow_t[has], (12 + 0.24 * pct[has]) / 7, width=6.05, bottom=py(592),
       color='#ccffff', zorder=1)
ax.scatter(snow_t[has], np.full(has.sum(), py(587.5)), s=62, color='#86d4f4',
           edgecolors='none', zorder=1.2)
ax.scatter(snow_t[has], np.full(has.sum(), py(587.5)), s=34, marker=(6, 2, 0),
           color='#3a9ee0', linewidths=0.8, zorder=1.3)
ax.scatter(snow_t[has], np.full(has.sum(), py(587.5)), s=3, color='white',
           edgecolors='none', zorder=1.4)
for t, p in zip(snow_t, snow_pct):
    if p > 0:
        ax.text(t, py(580), f'{p}%', rotation=90, ha='center', va='bottom',
                fontsize=6, fontweight='bold', color='#1010f0', zorder=2)

# perturbations
for vals, col in zip(pert_temps, member_colors):
    ax.plot(hours, vals, color=col, lw=0.8, marker='+', ms=3, mew=0.7, zorder=2)
for vals, col in zip(pert_rains, member_colors):
    ax.plot(rain_hours, np.array(vals) + RAIN_BASE, color=col, lw=0.8, marker='+',
            ms=3, mew=0.7, zorder=2)

# control, GFS, mean
ax.plot(hours, temp_ctrl, color='#0022ff', lw=2.3, zorder=3)
ax.plot(rain_hours, np.array(rain_ctrl) + RAIN_BASE, color='#0022ff', lw=2.3, zorder=3)
ax.plot(hours, temp_gfs, color='black', lw=2.3, zorder=3.1)
ax.plot(rain_hours, np.array(rain_gfs) + RAIN_BASE, color='black', lw=2.3, zorder=3.1)
ax.plot(hours, temp_mean, color='#ff0000', lw=3.6, zorder=4)
ax.plot(rain_hours, np.array(rain_mean) + RAIN_BASE, color='#ff0000', lw=3.6, zorder=4)

ax.text(6, py(295), 'Températures 2m', fontsize=7.1, va='center', ha='left', zorder=5)
ax.text(6, py(506), 'Précipitations', fontsize=7.1, va='center', ha='left', zorder=5)

# axes frame and ticks
for side in ['left', 'right', 'bottom']:
    ax.spines[side].set_linewidth(1.5)
ax.spines['top'].set_visible(False)
ax.set_xticks([])
ax.set_yticks(range(-30, 46, 5))
ax.set_yticklabels([str(v) for v in range(-30, 46, 5)], fontsize=6.5,
                   family='DejaVu Sans', ha='center')
ax.tick_params(axis='y', length=0, pad=18)
ax2 = ax.twinx()
ax2.set_ylim(YBOT - RAIN_BASE, YTOP - RAIN_BASE)
ax2.set_yticks(range(0, 76, 5))
ax2.set_yticklabels([str(v) for v in range(0, 76, 5)], fontsize=6.5,
                    family='DejaVu Sans', ha='center')
ax2.tick_params(axis='y', length=0, pad=18)
ax2.spines['top'].set_visible(False)
ax2.spines['right'].set_linewidth(1.5)

trans = mtransforms.blended_transform_factory(ax.transData, ax.transAxes)
for t, lab in zip(day_ticks, day_labels):
    ax.text(t + 4.2, -0.005, lab, transform=trans, rotation=90, ha='center',
            va='top', fontsize=7)

fig.text(*fx(20, 606), '(°C)', fontsize=7, va='center')
fig.text(*fx(710, 607), '(mm)', fontsize=7, va='center')

# legend
fig.add_artist(Line2D([35 / W, 65 / W], [1 - 647 / H] * 2, color='#ff0000', lw=3.2))
fig.text(*fx(75, 647), 'Moyenne des scénarios', fontsize=7.2, va='center')
fig.add_artist(Line2D([225 / W, 255 / W], [1 - 636.5 / H] * 2, color='#0022ff', lw=3.2))
fig.text(*fx(265, 637), 'Run de contrôle', fontsize=7.2, va='center')
fig.add_artist(Line2D([225 / W, 255 / W], [1 - 647 / H] * 2, color='black', lw=3.2))
fig.text(*fx(265, 648), 'Run GFS', fontsize=7.2, va='center')
fig.text(*fx(180, 660), 'Altitude du modele : 52m', fontsize=7.2, va='center')
fig.text(*fx(340, 651), '30 Perts.', fontsize=7.2, va='center')
for i, col in enumerate(member_colors):
    x0 = 400 + 11 * i
    fig.add_artist(Rectangle(((x0) / W, 1 - 656 / H), 10 / W, 7 / H, color=col,
                             transform=fig.transFigure))
    fig.text(*fx(x0 + 5, 643), f'{i + 1:02d}', fontsize=4.8, fontweight='bold',
             ha='center', va='center')

fig.add_artist(Rectangle((21 / W, 1 - 699 / H), 419 / W, 32 / H, fill=False,
                         edgecolor='black', lw=1.2, transform=fig.transFigure))
fig.text(*fx(30, 677), 'Diagramme des ensembles GEFS sur 384h : 50.8N 4.4E',
         fontsize=8.2, fontweight='bold', va='center')
fig.text(*fx(30, 691.5), 'Température 2m (°C) , précipitations (mm)', fontsize=7.2,
         va='center')
fig.text(*fx(449, 672), 'Ensemble GEFS du 31/12/2025 - 18Z', fontsize=6.8,
         family='DejaVu Sans', va='center')
fig.text(*fx(449, 692), 'Copyright 2026 Meteociel.fr', fontsize=8.4,
         fontweight='bold', va='center')

fig.savefig('out.png', dpi=100)
